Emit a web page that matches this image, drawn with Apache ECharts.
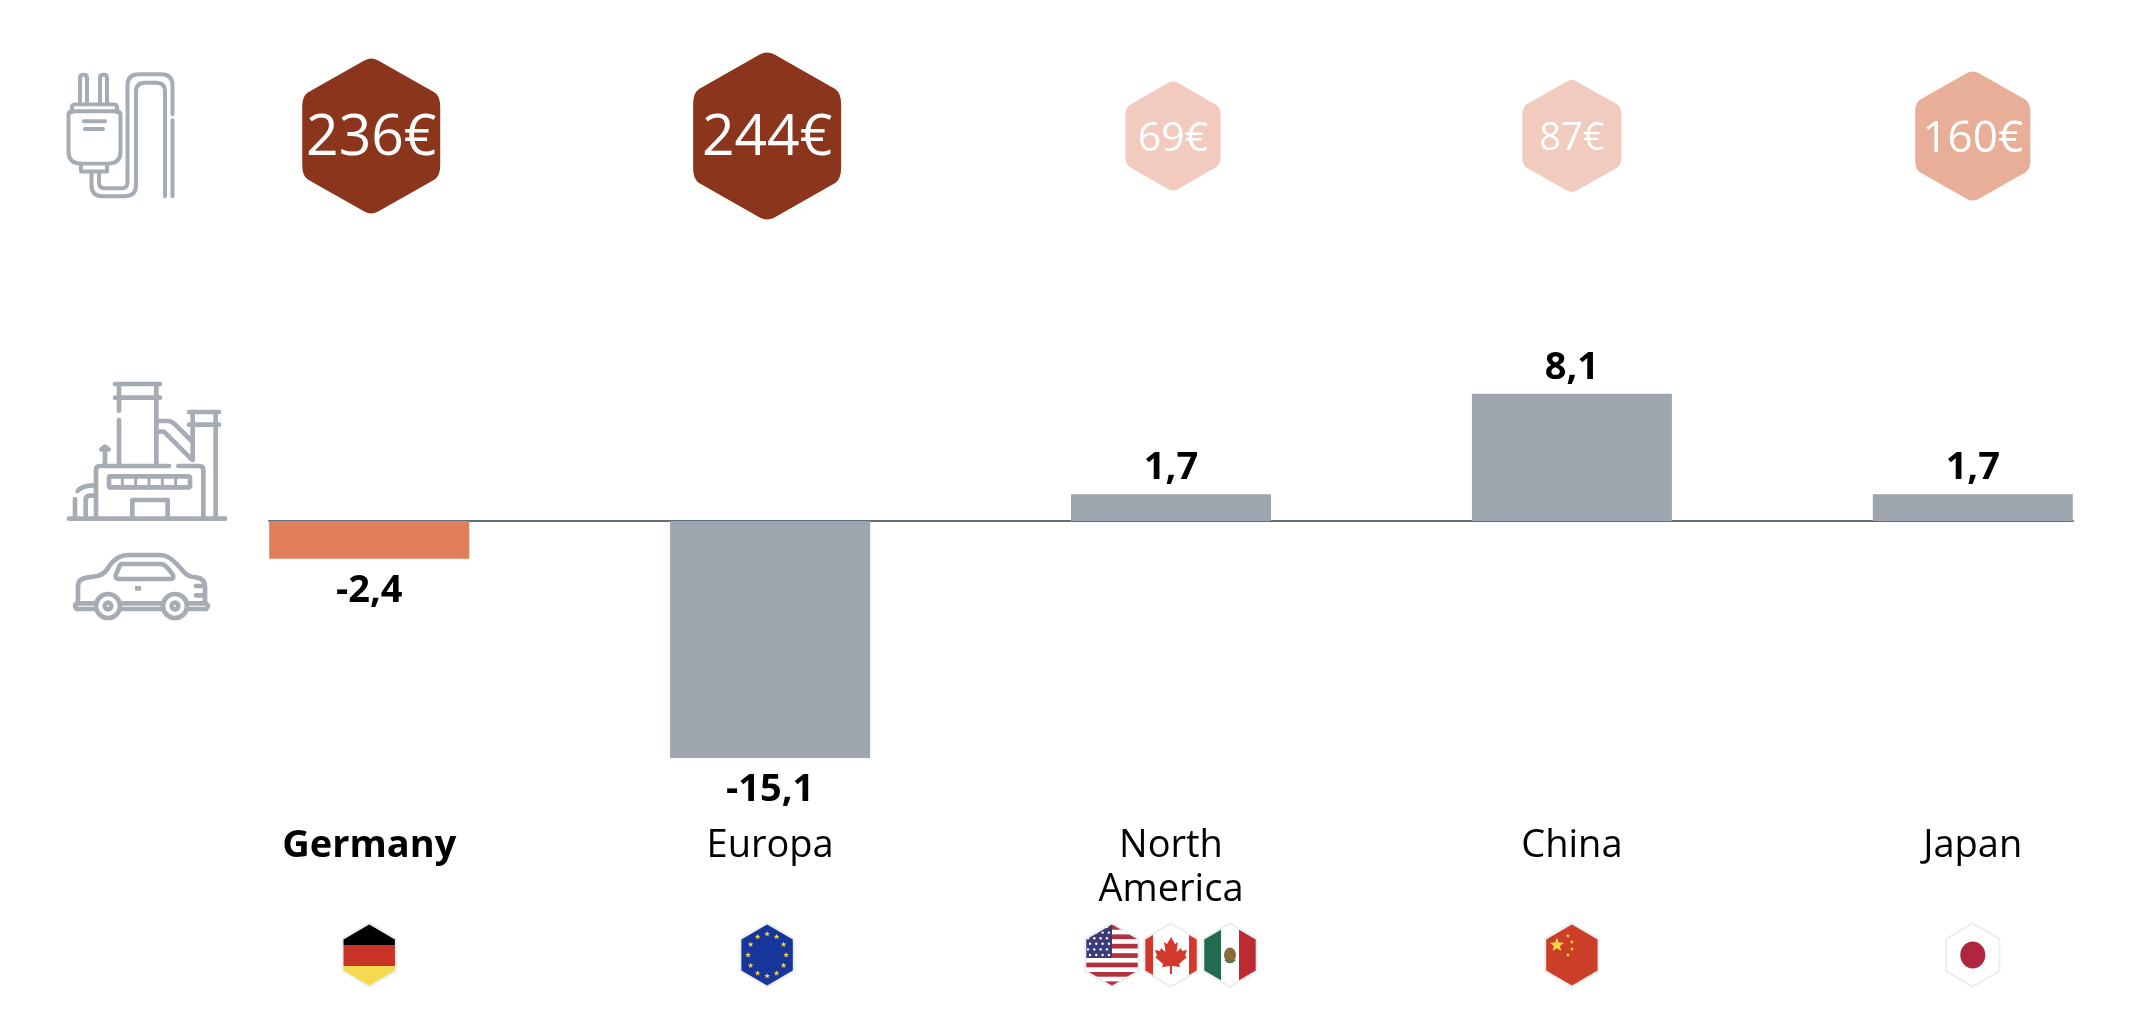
<!DOCTYPE html>
<html>
<head>
<meta charset="utf-8">
<script src="https://cdn.jsdelivr.net/npm/echarts@6/dist/echarts.min.js"></script>
<style>html,body{margin:0;padding:0;background:#fff}#c{width:2136px;height:1028px}</style>
</head>
<body>
<div id="c"></div>
<script>
const categories = ['Germany', 'Europa', 'North\nAmerica', 'China', 'Japan'];
const balanceValues = [-2.4, -15.1, 1.7, 8.1, 1.7];
const priceValues = [236, 244, 69, 87, 160];
const flagCodes = [['de'], ['eu'], ['us', 'ca', 'mx'], ['cn'], ['jp']];

const FONT = '"Open Sans"';
const GRAY = '#9EA5AE', ORANGE = '#E07D5A';
const priceStyle = {
  236: {w: 138, h: 155, c: '#8A351C', f: 57, dx: 2},
  244: {w: 148, h: 167, c: '#8A351C', f: 57, dx: -3},
  69:  {w: 95,  h: 109, c: '#F3CBBE', f: 41, dx: 2},
  87:  {w: 99,  h: 112, c: '#F1CBBE', f: 38, dx: 0},
  160: {w: 115, h: 129, c: '#E9AE98', f: 44, dx: 0}
};
const flagShift = {eu: -3};
const HEX_PATH = 'path://M45,1.5 Q50,-1 55,1.5 L96,22 Q100,24.5 100,31 L100,69 Q100,75.5 96,78 L55,98.5 Q50,101 45,98.5 L4,78 Q0,75.5 0,69 L0,31 Q0,24.5 4,22 Z';

function star(cx, cy, r, fill) {
  let p = [];
  for (let i = 0; i < 10; i++) {
    const a = -Math.PI / 2 + i * Math.PI / 5, q = i % 2 ? r * 0.42 : r;
    p.push((cx + q * Math.cos(a)).toFixed(2) + ',' + (cy + q * Math.sin(a)).toFixed(2));
  }
  return `<polygon points="${p.join(' ')}" fill="${fill}"/>`;
}
const flagArt = {
  de: '<rect width="56" height="23" fill="#000"/><rect y="23" width="56" height="21" fill="#C93325"/><rect y="44" width="56" height="22" fill="#F5D94E"/>',
  eu: (() => {
    let s = '<rect width="56" height="66" fill="#17369B"/>';
    for (let i = 0; i < 12; i++) {
      const a = i * Math.PI / 6;
      s += star(28 + 19 * Math.sin(a), 33 - 21 * Math.cos(a), 3, '#F2CF4A');
    }
    return s;
  })(),
  us: (() => {
    let s = '<rect width="56" height="66" fill="#fff"/>';
    for (let i = 0; i < 7; i++) s += `<rect y="${3 + i * 9.4}" width="56" height="4.7" fill="#B2303F"/>`;
    s += '<rect width="28" height="36" fill="#3C3B7A"/>';
    for (let r = 0; r < 6; r++) for (let c = 0; c < 4; c++) s += `<circle cx="${4 + c * 6.3 + (r % 2) * 2}" cy="${5 + r * 5.6}" r="1.2" fill="#fff"/>`;
    return s;
  })(),
  ca: '<rect width="56" height="66" fill="#fff"/><rect width="10" height="66" fill="#D2392B"/><rect x="46" width="10" height="66" fill="#D2392B"/>' +
      '<path fill="#D2392B" d="M28,15 L32,22 L35,20 L33.5,30 L38,26 L39,29 L44,28 L42,34 L44,35 L36,42 L37,45 L29,44 L29,52 L27,52 L27,44 L19,45 L20,42 L12,35 L14,34 L12,28 L17,29 L18,26 L22.5,30 L21,20 L24,22 Z"/>',
  mx: '<rect width="19" height="66" fill="#226B4F"/><rect x="19" width="18" height="66" fill="#fff"/><rect x="37" width="19" height="66" fill="#BE2A32"/>' +
      '<ellipse cx="28" cy="33" rx="6" ry="7.5" fill="#8A6A3A"/><path d="M23,38 Q28,43 33,38" stroke="#3D7A4D" stroke-width="1.6" fill="none"/>',
  cn: (() => {
    let s = '<rect width="56" height="66" fill="#CB3F28"/>' + star(13, 23, 7.5, '#F7D64A');
    [[24, 14], [28, 20], [28, 27], [24, 33]].forEach(p => s += star(p[0], p[1], 2.2, '#F7D64A'));
    return s;
  })(),
  jp: '<rect width="56" height="66" fill="#fff"/><ellipse cx="28" cy="33" rx="12.5" ry="13.5" fill="#B0263F"/>'
};
const HEX_PTS = '28,1.5 54.5,17 54.5,49 28,64.5 1.5,49 1.5,17';
function flagImage(code) {
  const svg = `<svg xmlns="http://www.w3.org/2000/svg" width="224" height="264" viewBox="0 0 56 66">` +
    `<defs><clipPath id="h"><polygon points="${HEX_PTS}"/></clipPath></defs>` +
    `<polygon points="${HEX_PTS}" fill="#fff" stroke="#EDEEEF" stroke-width="2.4" stroke-linejoin="round"/>` +
    `<g clip-path="url(#h)">${flagArt[code]}</g>` +
    `<polygon points="${HEX_PTS}" fill="none" stroke="#EDEEEF" stroke-width="1.6" stroke-linejoin="round"/></svg>`;
  return 'data:image/svg+xml,' + encodeURIComponent(svg);
}
const ICON = '#A6ACB4';
const plugSvg = `<svg xmlns="http://www.w3.org/2000/svg" width="440" height="520" viewBox="60 65 120 140">
<g fill="none" stroke="${ICON}" stroke-width="4" stroke-linecap="round" stroke-linejoin="round">
<path d="M80,104 V77 Q80,74 83.5,74 Q87,74 87,77 V104"/><path d="M100,104 V77 Q100,74 103.5,74 Q107,74 107,77 V104"/>
<path d="M72,112 V107 Q72,104 75,104 H114 Q117,104 117,107 V112"/>
<path d="M68.5,115 Q68.5,111 72,111 H117 Q120.5,111 120.5,115 V152 Q120.5,164 108,164 H81 Q68.5,164 68.5,152 Z"/>
<path d="M81,164 V172 H107 V164"/><path d="M84,121 H105"/><path d="M85,129 H103"/>
<path d="M91.5,172 V186 Q91.5,197 102,197 H125 Q136,197 136,186 V91 Q136,82 145,82 H156 Q165,82 165,91 V197"/>
<path d="M99,172 V183 Q99,189 105,189 H121 Q127.5,189 127.5,183 V85 Q127.5,73.5 139,73.5 H161 Q172.5,73.5 172.5,85 V114"/><path d="M172.5,120 V197"/>
</g></svg>`;
const factorySvg = `<svg xmlns="http://www.w3.org/2000/svg" width="600" height="825" viewBox="0 0 600 825">
<g fill="none" stroke="${ICON}" stroke-width="14" stroke-linecap="round" stroke-linejoin="round">
<path d="M87,476 H555"/>
<path d="M225,72 H360 M225,113 H360 M237,72 V152 M237,180 V312 M349,72 V312"/>
<path d="M447,156 H537 M447,194 H537 M458,156 V300 M527,156 V470"/>
<path d="M355,183 H385 Q395,183 405,193 L455,243 M355,215 H372 L455,298"/>
<path d="M168,470 V330 Q168,318 180,318 H387 M415,318 H478 Q490,318 490,330 V470"/>
<path d="M195,312 V265 M184,268 L195,260 L206,268"/>
<rect x="207" y="349" width="243" height="33" rx="5"/>
<path d="M247,349 V382 M287,349 V382 M327,349 V382 M367,349 V382 M407,349 V382" stroke-width="9"/>
<path d="M277,470 V420 H383 V470"/>
<path d="M105,470 V417 M137,470 V420 Q137,407 150,407 H165 M113,393 Q125,376 162,376"/>
</g>
<g fill="none" stroke="${ICON}" stroke-width="14" stroke-linecap="round" stroke-linejoin="round">
<path d="M114,722 V680 Q114,656 140,653 L172,648 Q192,644 204,624 Q228,585 265,585 H360 Q385,585 410,612 L436,640 Q446,650 468,652 Q495,656 495,680 V722"/>
<path d="M245,612 H362 Q372,612 382,623 L398,643 Q405,657 390,657 H240 Q222,657 229,641 L237,622 Q240,612 245,612 Z"/>
<circle cx="204" cy="738" r="36"/><circle cx="405" cy="738" r="36"/>
<circle cx="204" cy="738" r="10"/><circle cx="405" cy="738" r="10"/>
<path d="M110,730 H165 M110,747 H165 M110,730 Q100,738 110,747 M243,730 H367 M243,747 H367 M443,730 H498 M443,747 H498 M498,730 Q510,738 498,747"/>
<path d="M468,678 H494 M468,706 H494"/>
</g>
<rect x="285" y="678" width="18" height="14" fill="${ICON}"/>
</svg>`;
const uri = s => 'data:image/svg+xml,' + encodeURIComponent(s);

const GRID = {left: 269, right: 63};
const XMIN = -0.25, XMAX = 4.25;
const hiddenX = i => ({type: 'value', gridIndex: i, min: XMIN, max: XMAX, show: false});
const hiddenY = i => ({type: 'value', gridIndex: i, min: 0, max: 1, show: false});
const indices = categories.map((_, i) => i);

const chart = echarts.init(document.getElementById('c'), null, {renderer: 'canvas', width: 2136, height: 1028});
chart.setOption({
  animation: false,
  backgroundColor: '#fff',
  graphic: [
    {type: 'image', left: 60, top: 65, style: {image: uri(plugSvg), width: 120, height: 140}},
    {type: 'image', left: 40, top: 360, style: {image: uri(factorySvg), width: 200, height: 275}}
  ],
  grid: [
    Object.assign({top: 364, height: 471}, GRID),
    Object.assign({top: 86, height: 100}, GRID),
    Object.assign({top: 905, height: 100}, GRID)
  ],
  xAxis: [
    {type: 'value', gridIndex: 0, min: XMIN, max: XMAX, splitLine: {show: false}, axisTick: {show: false}, axisLabel: {show: false},
     axisLine: {show: true, onZero: true, lineStyle: {color: '#5F6F7C', width: 2}}},
    {type: 'value', gridIndex: 0, min: XMIN, max: XMAX, position: 'bottom', splitLine: {show: false}, axisTick: {show: false}, axisLine: {show: false, onZero: false},
     axisLabel: {show: true, customValues: indices, margin: -11, verticalAlign: 'top', hideOverlap: false, showMinLabel: true, showMaxLabel: true,
       fontFamily: FONT, fontSize: 38, lineHeight: 44, color: '#000',
       formatter: v => v === 0 ? '{b|' + categories[v] + '}' : categories[v],
       rich: {b: {fontFamily: FONT, fontSize: 38, fontWeight: 'bold', color: '#000', lineHeight: 44}}}},
    hiddenX(1), hiddenX(2)
  ],
  yAxis: [
    {type: 'value', gridIndex: 0, min: -20, max: 10, show: false},
    hiddenY(1), hiddenY(2)
  ],
  series: [
    {type: 'bar', xAxisIndex: 0, yAxisIndex: 0, barWidth: 200,
     data: balanceValues.map((v, i) => ({
       value: [i, v],
       itemStyle: {color: i === 0 ? ORANGE : GRAY},
       label: {position: v < 0 ? 'bottom' : 'top', distance: v < 0 ? 13 : 7}
     })),
     label: {show: true, fontFamily: FONT, fontSize: 38, fontWeight: 'bold', color: '#000',
       formatter: p => String(p.value[1]).replace('.', ',')},
     z: 1},
    {type: 'scatter', xAxisIndex: 2, yAxisIndex: 1, symbol: HEX_PATH,
     data: priceValues.map((v, i) => ({
       value: [i, 0.5, v],
       symbolSize: [priceStyle[v].w, priceStyle[v].h],
       symbolOffset: [priceStyle[v].dx, 0],
       itemStyle: {color: priceStyle[v].c, opacity: 1},
       label: {fontSize: priceStyle[v].f}
     })),
     label: {show: true, position: 'inside', offset: [0, 3], fontFamily: FONT, color: '#fff',
       formatter: p => p.value[2] + '€'}},
    {type: 'scatter', xAxisIndex: 3, yAxisIndex: 2, symbolKeepAspect: false, itemStyle: {opacity: 1},
     data: flagCodes.flatMap((codes, i) => codes.map((code, j) => ({
       value: [i, 0.5],
       symbol: 'image://' + flagImage(code),
       symbolSize: [56, 66],
       symbolOffset: [(j - (codes.length - 1) / 2) * 59 + (flagShift[code] || 0), 0]
     })))}
  ]
});
</script>
</body>
</html>
